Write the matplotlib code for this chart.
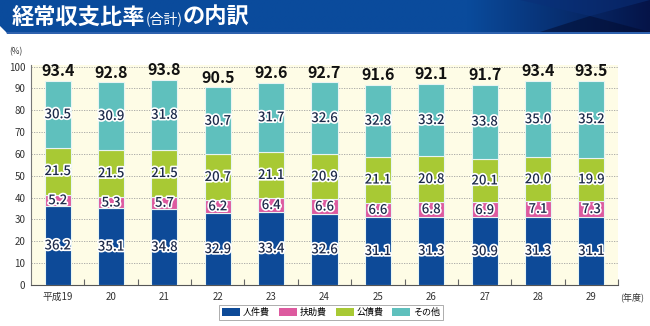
import matplotlib
matplotlib.use("Agg")
import matplotlib.pyplot as plt
import matplotlib.patheffects as pe
from matplotlib.patches import Patch, Polygon
import numpy as np

plt.rcParams['font.family'] = ['Noto Sans CJK JP', 'DejaVu Sans']

years = ['平成19', '20', '21', '22', '23', '24', '25', '26', '27', '28', '29']
jinken = [36.2, 35.1, 34.8, 32.9, 33.4, 32.6, 31.1, 31.3, 30.9, 31.3, 31.1]
fujo = [5.2, 5.3, 5.7, 6.2, 6.4, 6.6, 6.6, 6.8, 6.9, 7.1, 7.3]
kosai = [21.5, 21.5, 21.5, 20.7, 21.1, 20.9, 21.1, 20.8, 20.1, 20.0, 19.9]
sonota = [30.5, 30.9, 31.8, 30.7, 31.7, 32.6, 32.8, 33.2, 33.8, 35.0, 35.2]
totals = [93.4, 92.8, 93.8, 90.5, 92.6, 92.7, 91.6, 92.1, 91.7, 93.4, 93.5]

series = [('人件費', jinken, '#0d4a98'),
          ('扶助費', fujo, '#dd5a9f'),
          ('公債費', kosai, '#a8c934'),
          ('その他', sonota, '#5fc0bd')]

W, H = 650, 326
fig = plt.figure(figsize=(W / 100, H / 100), dpi=100)

# header banner drawn in pixel space
bax = fig.add_axes([0, 0, 1, 1])
bax.set_xlim(0, W)
bax.set_ylim(H, 0)
bax.axis('off')
grad = np.linspace(0, 1, 400)
ramp = np.clip((grad - 0.72) / 0.28, 0, 1)
c0 = np.array([0x0a, 0x4b, 0x9c]) / 255
c1 = np.array([0x05, 0x14, 0x48]) / 255
img = (c0[None, :] * (1 - ramp[:, None]) + c1[None, :] * ramp[:, None])[None, :, :]
banner = bax.imshow(img, extent=(0, W, 32, 0), aspect='auto', zorder=1)
clip = Polygon([(0, 0), (W, 0), (W, 32), (6, 32), (0, 26)], closed=True,
               transform=bax.transData, facecolor='none', edgecolor='none')
bax.add_patch(clip)
banner.set_clip_path(clip)
bax.add_patch(Polygon([(6, 32), (W, 32), (W, 34), (7, 34)], closed=True,
                      facecolor='#2f62ae', edgecolor='none', zorder=2))
bax.add_patch(Polygon([(520, 0), (650, 0), (590, 16)], closed=True,
                      facecolor='#0a2f78', edgecolor='none', alpha=0.55, zorder=2))
bax.add_patch(Polygon([(540, 32), (650, 32), (590, 16)], closed=True,
                      facecolor='#030c30', edgecolor='none', alpha=0.55, zorder=2))

t1 = bax.text(12, 17, '経常収支比率', color='white', fontsize=16, fontweight='bold',
              va='center', ha='left', zorder=3)
fig.canvas.draw()
r = fig.canvas.get_renderer()
x1 = t1.get_window_extent(r).x1
t2 = fig.text(x1 / W, 1 - 18.5 / H, '(合計)', color='white', fontsize=10,
              va='center', ha='left')
fig.canvas.draw()
x2 = t2.get_window_extent(r).x1
fig.text(x2 / W, 1 - 17 / H, 'の内訳', color='white', fontsize=16,
         fontweight='bold', va='center', ha='left')

# chart area
ax = fig.add_axes([31 / W, 41 / H, 587 / W, 220 / H])
ax.set_facecolor('#fefce6')
x = np.arange(len(years))
bottom = np.zeros(len(years))
outline = [pe.withStroke(linewidth=2.4, foreground='white')]
for name, vals, col in series:
    vals = np.array(vals)
    ax.bar(x, vals, 0.49, bottom=bottom, color=col, edgecolor='#e8f4f2',
           linewidth=0.8, zorder=3, label=name)
    for xi, b, v in zip(x, bottom, vals):
        ax.text(xi, b + v / 2, f'{v:.1f}', ha='center', va='center',
                fontsize=9.5, fontweight='medium', color='#1d2a4a',
                path_effects=outline, zorder=4)
    bottom += vals

for xi, tot, top in zip(x, totals, bottom):
    ax.text(xi, top + 0.8, f'{tot:.1f}', ha='center', va='bottom',
            fontsize=11.5, fontweight='bold', color='#111111', zorder=4)

ax.set_xlim(-0.5, 10.5)
ax.set_ylim(0, 100.7)
ax.set_yticks(np.arange(0, 101, 10))
ax.yaxis.grid(True, linestyle=(0, (1.5, 1.5)), color='#a0a0a0', linewidth=0.6, zorder=1)
ax.set_xticks(x)
ax.set_xticklabels(years)
ax.set_xticks(np.arange(0.5, 10.6, 1), minor=True)
ax.tick_params(axis='x', which='major', length=0, labelsize=7, colors='#333333', pad=5)
ax.tick_params(axis='x', which='minor', direction='in', length=4, color='#666666', width=0.8)
ax.tick_params(axis='y', length=0, labelsize=7, colors='#333333', pad=4)
for s in ('top', 'right'):
    ax.spines[s].set_visible(False)
ax.spines['left'].set_color('#777777')
ax.spines['bottom'].set_color('#555555')
ax.spines['left'].set_linewidth(0.8)
ax.spines['bottom'].set_linewidth(0.8)

fig.text(9 / W, 1 - 52 / H, '(%)', fontsize=6, color='#333333', va='center')
fig.text(620 / W, 1 - 297 / H, '(年度)', fontsize=6.5, color='#333333', va='center')

handles = [Patch(facecolor=c, edgecolor='none', label=n) for n, _, c in series]
leg = fig.legend(handles=handles, loc='center', ncol=4,
                 bbox_to_anchor=(331 / W, 1 - 312.5 / H), fontsize=6.5,
                 frameon=True, fancybox=False, edgecolor='#888888',
                 handlelength=2.0, handleheight=0.9, columnspacing=1.0,
                 handletextpad=0.3, borderpad=0.35, borderaxespad=0)
leg.get_frame().set_linewidth(0.6)

fig.savefig('out.png', dpi=100)
